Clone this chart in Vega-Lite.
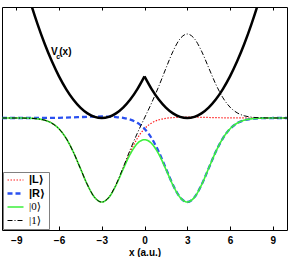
{
  "$schema": "https://vega.github.io/schema/vega-lite/v6.json",
  "width": 285,
  "height": 223,
  "autosize": {"type": "none"},
  "padding": {"left": 2, "top": 7, "right": 4, "bottom": 27},
  "config": {"view": {"stroke": "black", "strokeWidth": 1}},
  "datasets": {
    "wave": [
      {"x": -10, "L": 0, "R": 0, "S0": 0, "S1": 0},
      {"x": -9.5, "L": -0.0001, "R": 0, "S0": -0.0001, "S1": -0.0001},
      {"x": -9, "L": -0.0003, "R": 0, "S0": -0.0003, "S1": -0.0003},
      {"x": -8.5, "L": -0.001, "R": 0, "S0": -0.001, "S1": -0.001},
      {"x": -8, "L": -0.0034, "R": 0.0001, "S0": -0.0034, "S1": -0.0034},
      {"x": -7.5, "L": -0.01, "R": 0.0002, "S0": -0.01, "S1": -0.01},
      {"x": -7, "L": -0.0263, "R": 0.0005, "S0": -0.0263, "S1": -0.0263},
      {"x": -6.5, "L": -0.0618, "R": 0.0011, "S0": -0.0618, "S1": -0.0618},
      {"x": -6, "L": -0.1293, "R": 0.0023, "S0": -0.1293, "S1": -0.1293},
      {"x": -5.5, "L": -0.2416, "R": 0.0043, "S0": -0.2416, "S1": -0.2416},
      {"x": -5, "L": -0.4029, "R": 0.0073, "S0": -0.4029, "S1": -0.4029},
      {"x": -4.5, "L": -0.5997, "R": 0.0108, "S0": -0.5997, "S1": -0.5997},
      {"x": -4, "L": -0.7967, "R": 0.0143, "S0": -0.7967, "S1": -0.7967},
      {"x": -3.5, "L": -0.9448, "R": 0.017, "S0": -0.9449, "S1": -0.9447},
      {"x": -3, "L": -1.0, "R": 0.0177, "S0": -1.0003, "S1": -0.9997},
      {"x": -2.5, "L": -0.9448, "R": 0.016, "S0": -0.9458, "S1": -0.9438},
      {"x": -2, "L": -0.7967, "R": 0.0109, "S0": -0.8001, "S1": -0.7933},
      {"x": -1.5, "L": -0.5996, "R": 0.0008, "S0": -0.6097, "S1": -0.5897},
      {"x": -1, "L": -0.4026, "R": -0.019, "S0": -0.4292, "S1": -0.3766},
      {"x": -0.5, "L": -0.241, "R": -0.0575, "S0": -0.3034, "S1": -0.1798},
      {"x": 0, "L": -0.128, "R": -0.127, "S0": -0.2586, "S1": 0},
      {"x": 0.5, "L": -0.0594, "R": -0.2405, "S0": -0.3034, "S1": 0.1798},
      {"x": 1, "L": -0.0223, "R": -0.4024, "S0": -0.4292, "S1": 0.3766},
      {"x": 1.5, "L": -0.004, "R": -0.5995, "S0": -0.6097, "S1": 0.5897},
      {"x": 2, "L": 0.0046, "R": -0.7966, "S0": -0.8001, "S1": 0.7933},
      {"x": 2.5, "L": 0.0084, "R": -0.9448, "S0": -0.9458, "S1": 0.9438},
      {"x": 3, "L": 0.0097, "R": -1.0, "S0": -1.0003, "S1": 0.9997},
      {"x": 3.5, "L": 0.0093, "R": -0.9448, "S0": -0.9449, "S1": 0.9447},
      {"x": 4, "L": 0.008, "R": -0.7967, "S0": -0.7967, "S1": 0.7967},
      {"x": 4.5, "L": 0.006, "R": -0.5997, "S0": -0.5997, "S1": 0.5997},
      {"x": 5, "L": 0.004, "R": -0.4029, "S0": -0.4029, "S1": 0.4029},
      {"x": 5.5, "L": 0.0024, "R": -0.2416, "S0": -0.2416, "S1": 0.2416},
      {"x": 6, "L": 0.0013, "R": -0.1293, "S0": -0.1293, "S1": 0.1293},
      {"x": 6.5, "L": 0.0006, "R": -0.0618, "S0": -0.0618, "S1": 0.0618},
      {"x": 7, "L": 0.0003, "R": -0.0263, "S0": -0.0263, "S1": 0.0263},
      {"x": 7.5, "L": 0.0001, "R": -0.01, "S0": -0.01, "S1": 0.01},
      {"x": 8, "L": 0, "R": -0.0034, "S0": -0.0034, "S1": 0.0034},
      {"x": 8.5, "L": 0, "R": -0.001, "S0": -0.001, "S1": 0.001},
      {"x": 9, "L": 0, "R": -0.0003, "S0": -0.0003, "S1": 0.0003},
      {"x": 9.5, "L": 0, "R": -0.0001, "S0": -0.0001, "S1": 0.0001},
      {"x": 10, "L": 0, "R": 0, "S0": 0, "S1": 0}
    ],
    "pot": [
      {"x": -10, "V": 2.695, "side": "left"},
      {"x": -9.5, "V": 2.324, "side": "left"},
      {"x": -9, "V": 1.98, "side": "left"},
      {"x": -8.5, "V": 1.664, "side": "left"},
      {"x": -8, "V": 1.375, "side": "left"},
      {"x": -7.5, "V": 1.114, "side": "left"},
      {"x": -7, "V": 0.88, "side": "left"},
      {"x": -6.5, "V": 0.674, "side": "left"},
      {"x": -6, "V": 0.495, "side": "left"},
      {"x": -5.5, "V": 0.344, "side": "left"},
      {"x": -5, "V": 0.22, "side": "left"},
      {"x": -4.5, "V": 0.124, "side": "left"},
      {"x": -4, "V": 0.055, "side": "left"},
      {"x": -3.5, "V": 0.0138, "side": "left"},
      {"x": -3, "V": 0, "side": "left"},
      {"x": -2.5, "V": 0.0138, "side": "left"},
      {"x": -2, "V": 0.055, "side": "left"},
      {"x": -1.5, "V": 0.124, "side": "left"},
      {"x": -1, "V": 0.22, "side": "left"},
      {"x": -0.5, "V": 0.344, "side": "left"},
      {"x": 0, "V": 0.495, "side": "left"},
      {"x": 0, "V": 0.495, "side": "right"},
      {"x": 0.5, "V": 0.344, "side": "right"},
      {"x": 1, "V": 0.22, "side": "right"},
      {"x": 1.5, "V": 0.124, "side": "right"},
      {"x": 2, "V": 0.055, "side": "right"},
      {"x": 2.5, "V": 0.0138, "side": "right"},
      {"x": 3, "V": 0, "side": "right"},
      {"x": 3.5, "V": 0.0138, "side": "right"},
      {"x": 4, "V": 0.055, "side": "right"},
      {"x": 4.5, "V": 0.124, "side": "right"},
      {"x": 5, "V": 0.22, "side": "right"},
      {"x": 5.5, "V": 0.344, "side": "right"},
      {"x": 6, "V": 0.495, "side": "right"},
      {"x": 6.5, "V": 0.674, "side": "right"},
      {"x": 7, "V": 0.88, "side": "right"},
      {"x": 7.5, "V": 1.114, "side": "right"},
      {"x": 8, "V": 1.375, "side": "right"},
      {"x": 8.5, "V": 1.664, "side": "right"},
      {"x": 9, "V": 1.98, "side": "right"},
      {"x": 9.5, "V": 2.324, "side": "right"},
      {"x": 10, "V": 2.695, "side": "right"}
    ],
    "label": [{"t": "V"}]
  },
  "layer": [
    {
      "data": {"name": "wave"},
      "transform": [{"fold": ["L", "R", "S0", "S1"], "as": ["state", "psi"]}],
      "mark": {"type": "line", "clip": true, "interpolate": "monotone"},
      "encoding": {
        "x": {
          "field": "x", "type": "quantitative",
          "scale": {"domain": [-10, 10], "nice": false, "zero": false},
          "axis": {
            "orient": "bottom", "values": [-9, -6, -3, 0, 3, 6, 9],
            "grid": false, "domain": false, "tickSize": -4, "tickColor": "black",
            "labelFont": "Liberation Sans", "labelFontWeight": "bold", "labelFontSize": 10,
            "labelColor": "black", "labelPadding": 9,
            "title": "x (a.u.)", "titleFont": "Liberation Sans", "titleFontWeight": "bold",
            "titleFontSize": 10, "titleColor": "black", "titlePadding": 2
          }
        },
        "y": {
          "field": "psi", "type": "quantitative",
          "scale": {"domain": [-1.333, 1.321], "nice": false, "zero": false},
          "axis": null
        },
        "color": {
          "field": "state", "type": "nominal",
          "scale": {"domain": ["L", "R", "S0", "S1"], "range": ["#ff2020", "#2a50f0", "#3cf03c", "#000000"]},
          "legend": {
            "orient": "bottom-left", "offset": 1, "title": null,
            "labelExpr": "{'L': '|L⟩', 'R': '|R⟩', 'S0': '|0⟩', 'S1': '|1⟩'}[datum.value]",
            "symbolType": "stroke", "symbolSize": 256, "labelFontSize": 11, "labelOffset": 4,
            "fillColor": "white", "strokeColor": "#808080", "padding": 3, "rowPadding": 2.5,
            "clipHeight": 10, "labelColor": "black",
            "encode": {"labels": {"update": {
              "font": {"signal": "indexof(['S0','S1'], datum.value) >= 0 ? 'Liberation Serif, DejaVu Serif' : 'Liberation Sans, DejaVu Sans'"},
              "fontWeight": {"signal": "indexof(['S0','S1'], datum.value) >= 0 ? 'normal' : 'bold'"}
            }}}
          }
        },
        "strokeDash": {
          "field": "state", "type": "nominal",
          "scale": {"domain": ["L", "R", "S0", "S1"], "range": [[1.5, 1.5], [5, 3], [1, 0], [5, 2, 1, 2]]}
        },
        "strokeWidth": {
          "field": "state", "type": "nominal",
          "scale": {"type": "ordinal", "domain": ["L", "R", "S0", "S1"], "range": [1.2, 2.3, 1.6, 1]}
        }
      }
    },
    {
      "data": {"name": "pot"},
      "mark": {"type": "line", "clip": true, "interpolate": "monotone", "color": "black", "strokeWidth": 2.5},
      "encoding": {
        "x": {
          "field": "x", "type": "quantitative",
          "axis": {
            "orient": "top", "values": [-9, -6, -3, 0, 3, 6, 9], "labels": false,
            "grid": false, "domain": false, "tickSize": -3, "tickColor": "black", "title": null
          }
        },
        "y": {"field": "V", "type": "quantitative", "axis": null},
        "detail": {"field": "side", "type": "nominal"}
      }
    },
    {
      "data": {"name": "label"},
      "mark": {"type": "text", "text": "V", "align": "left", "baseline": "middle", "font": "Liberation Sans", "fontWeight": "bold", "fontSize": 10, "color": "black"},
      "encoding": {
        "x": {"datum": -6.56, "type": "quantitative", "axis": null},
        "y": {"datum": 0.786, "type": "quantitative", "axis": null}
      }
    },
    {
      "data": {"name": "label"},
      "mark": {"type": "text", "text": "c", "align": "left", "baseline": "middle", "font": "Liberation Sans", "fontWeight": "bold", "fontSize": 7, "color": "black"},
      "encoding": {
        "x": {"datum": -6.2, "type": "quantitative", "axis": null},
        "y": {"datum": 0.73, "type": "quantitative", "axis": null}
      }
    },
    {
      "data": {"name": "label"},
      "mark": {"type": "text", "text": "(x)", "align": "left", "baseline": "middle", "font": "Liberation Sans", "fontWeight": "bold", "fontSize": 10, "color": "black"},
      "encoding": {
        "x": {"datum": -5.98, "type": "quantitative", "axis": null},
        "y": {"datum": 0.786, "type": "quantitative", "axis": null}
      }
    }
  ]
}
